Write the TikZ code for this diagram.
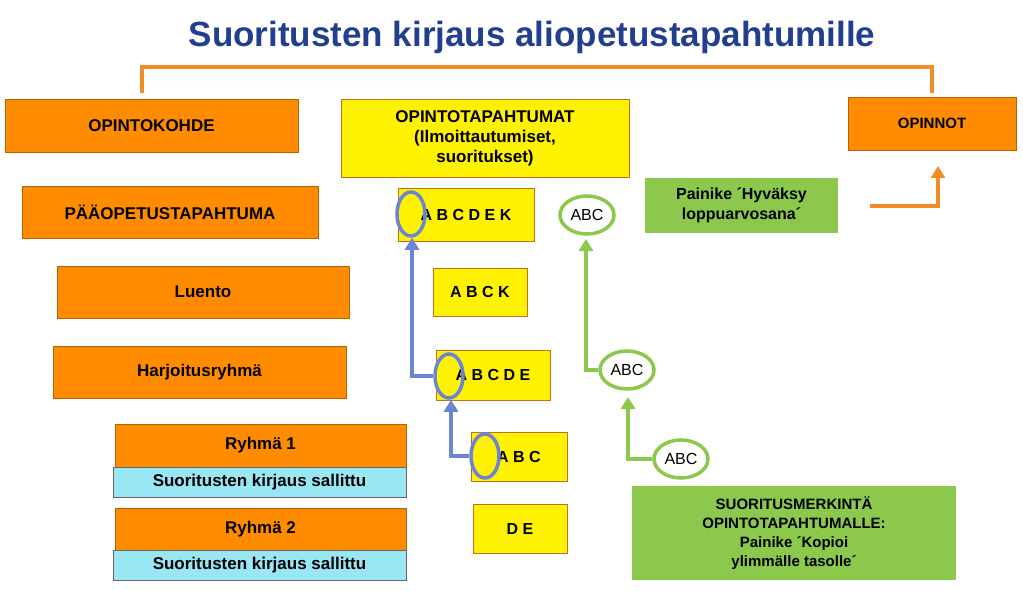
\documentclass[tikz,border=0pt]{standalone}
\usepackage{fontspec}
\setmainfont{Liberation Sans}
\usetikzlibrary{arrows.meta}
\definecolor{org}{HTML}{FF8C00}
\definecolor{orgline}{HTML}{F28C28}
\definecolor{yel}{HTML}{FFF200}
\definecolor{grn}{HTML}{8CC84B}
\definecolor{blu}{HTML}{6B84D4}
\definecolor{cyn}{HTML}{99E6F5}
\definecolor{ttl}{HTML}{223E8E}
\tikzset{
  box/.style={draw=#1!70!black,line width=0.6pt,inner sep=0pt,font=\bfseries\fontsize{17}{20}\selectfont,align=center},
  obox/.style={box=org,fill=org},
  ybox/.style={box=yel,fill=yel,draw=orgline!80!black},
  cbox/.style={draw=black!60,fill=cyn,inner sep=0pt,font=\bfseries\fontsize{17}{20}\selectfont},
  gbox/.style={fill=grn,inner sep=0pt,font=\bfseries\fontsize{16}{20}\selectfont,align=center},
  bcirc/.style={ellipse,draw=blu,line width=3.5pt,minimum width=28pt,minimum height=44pt,inner sep=0pt},
  gcirc/.style={ellipse,draw=grn,line width=3.5pt,fill=white,minimum width=54pt,minimum height=38pt,inner sep=0pt,font=\fontsize{16}{18}\selectfont},
  barr/.style={draw=blu,line width=4pt,-{Triangle[length=12pt,width=14pt]}},
  garr/.style={draw=grn,line width=4pt,-{Triangle[length=12pt,width=14pt]}},
  oarr/.style={draw=orgline,line width=3.5pt,-{Triangle[length=12pt,width=14pt]}}
}
\usetikzlibrary{shapes.geometric}
\begin{document}
\begin{tikzpicture}[x=1pt,y=-1pt]
\useasboundingbox (0,0) rectangle (1023,591);
\node[font=\bfseries\fontsize{35}{40}\selectfont,text=ttl] (title) at (532,37) {Suoritusten kirjaus aliopetustapahtumille};
\draw[orgline,line width=3.5pt] (142,93) -- (142,67) -- (932,67) -- (932,93);
% orange boxes
\node[obox,minimum width=293pt,minimum height=53pt] (ok) at (151.5,125.5) {OPINTOKOHDE};
\node[obox,minimum width=168pt,minimum height=53pt,font=\bfseries\fontsize{15}{18}\selectfont] (opn) at (932,123.5) {OPINNOT};
\node[obox,minimum width=296pt,minimum height=52pt] (pa) at (170,212) {PÄÄOPETUSTAPAHTUMA};
\node[obox,minimum width=292pt,minimum height=52pt] (lu) at (203,292) {Luento};
\node[obox,minimum width=293pt,minimum height=52pt] (ha) at (199.5,372) {Harjoitusryhmä};
\node[obox,minimum width=291pt,minimum height=43pt] (r1) at (260.5,445.5) {Ryhmä 1};
\node[cbox,minimum width=293pt,minimum height=30pt] (s1) at (259.5,482) {Suoritusten kirjaus sallittu};
\node[obox,minimum width=291pt,minimum height=43pt] (r2) at (260.5,529.5) {Ryhmä 2};
\node[cbox,minimum width=293pt,minimum height=30pt] (s2) at (259.5,565) {Suoritusten kirjaus sallittu};
% yellow boxes
\node[ybox,minimum width=288pt,minimum height=78pt] (ot) at (485,138) {OPINTOTAPAHTUMAT\\(Ilmoittautumiset,\\suoritukset)};
\node[ybox,minimum width=136pt,minimum height=53pt,font=\bfseries\fontsize{16}{18}\selectfont] (y1) at (466,214.5) {A B C D E K};
\node[ybox,minimum width=94pt,minimum height=48pt,font=\bfseries\fontsize{16}{18}\selectfont] (y2) at (480,292) {A B C K};
\node[ybox,minimum width=114pt,minimum height=50pt,font=\bfseries\fontsize{16}{18}\selectfont] (y3) at (493,375) {A B C D E};
\node[ybox,minimum width=96pt,minimum height=49pt,font=\bfseries\fontsize{16}{18}\selectfont] (y4) at (519,456.5) {A B C};
\node[ybox,minimum width=94pt,minimum height=49pt,font=\bfseries\fontsize{16}{18}\selectfont] (y5) at (520,528.5) {D E};
% blue circles
\node[bcirc] (c1) at (411,214) {};
\node[bcirc] (c2) at (449,376) {};
\node[bcirc] (c3) at (485,456) {};
\coordinate (b2) at (412,376);
\coordinate (b3) at (451,456);
\draw[barr] (c2.west) -- (b2) -- (c1.south -| b2);
\draw[barr] (c3.west) -- (b3) -- (c2.south -| b3);
% green
\node[gcirc] (g1) at (587,215) {ABC};
\node[gcirc] (g2) at (627,370) {ABC};
\node[gcirc] (g3) at (681,459) {ABC};
\coordinate (gb2) at (586,370);
\coordinate (gb3) at (628,459);
\draw[garr] (g2.west) -- (gb2) -- (586,239);
\draw[garr] (g3.west) -- (gb3) -- (628,397);
\node[gbox,minimum width=193pt,minimum height=55pt] (hy) at (741.5,205.5) {Painike ´Hyväksy\\loppuarvosana´};
\node[gbox,minimum width=324pt,minimum height=94pt,font=\bfseries\fontsize{15}{19}\selectfont] (sm) at (794,533) {SUORITUSMERKINTÄ\\OPINTOTAPAHTUMALLE:\\Painike ´Kopioi\\ylimmälle tasolle´};
\coordinate (oa) at (870,206);
\coordinate (ob) at (938,206);
\draw[oarr] (oa) -- (ob) -- (938,166);
\end{tikzpicture}
\end{document}
